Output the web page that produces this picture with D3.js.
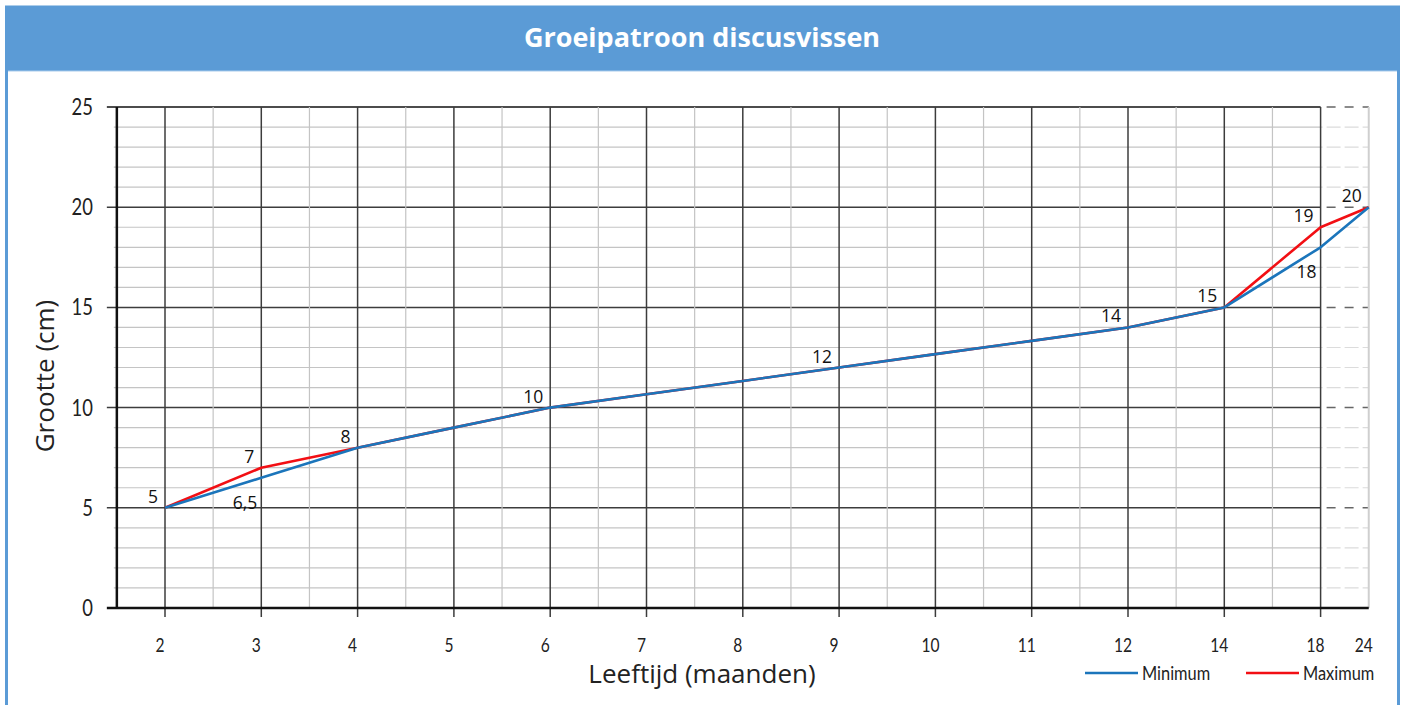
<!DOCTYPE html>
<html>
<head>
<meta charset="utf-8">
<script src="https://cdn.jsdelivr.net/npm/d3@7"></script>
<style>
  body { margin: 0; background: #fff; }
  svg text { fill: #222; }
  .cond { font-family: Lato, "Open Sans", sans-serif; }
  .human { font-family: "Open Sans", Lato, sans-serif; }
</style>
</head>
<body>
<svg id="chart" width="1403" height="705"></svg>
<script>
const months = [2, 3, 4, 5, 6, 7, 8, 9, 10, 11, 12, 14, 18, 24];
const minimumValues = [5, 6.5, 8, 9, 10, 10.67, 11.33, 12, 12.67, 13.33, 14, 15, 18, 20];
const maximumValues = [5, 7, 8, 9, 10, 10.67, 11.33, 12, 12.67, 13.33, 14, 15, 19, 20];
const yTicks = [0, 5, 10, 15, 20, 25];
const seriesNames = ["Minimum", "Maximum"];
const pointLabels = [
  { month: 2, value: 5, text: "5", side: "above" },
  { month: 3, value: 7, text: "7", side: "above" },
  { month: 3, value: 6.5, text: "6,5", side: "below" },
  { month: 4, value: 8, text: "8", side: "above" },
  { month: 6, value: 10, text: "10", side: "above" },
  { month: 9, value: 12, text: "12", side: "above" },
  { month: 12, value: 14, text: "14", side: "above" },
  { month: 14, value: 15, text: "15", side: "above" },
  { month: 18, value: 19, text: "19", side: "above" },
  { month: 18, value: 18, text: "18", side: "below" },
  { month: 24, value: 20, text: "20", side: "above" }
];

const colors = { Minimum: "#1b75bb", Maximum: "#f20f14" };
const headerBlue = "#5b9bd6";

const svg = d3.select("#chart");

// frame + header
svg.append("rect").attr("x", 6.5).attr("y", 7).attr("width", 1392).attr("height", 720)
  .attr("fill", "#fff").attr("stroke", headerBlue).attr("stroke-width", 3);
svg.append("rect").attr("x", 5).attr("y", 7).attr("width", 1395).attr("height", 64)
  .attr("fill", headerBlue);
svg.append("line").attr("x1", 8).attr("x2", 1397).attr("y1", 71).attr("y2", 71)
  .attr("stroke", "#a9cbec").attr("stroke-width", 1);
svg.append("text").attr("class", "human")
  .attr("x", 702).attr("y", 47).attr("text-anchor", "middle")
  .attr("font-size", 27).attr("font-weight", 700).style("fill", "#fff")
  .text("Groeipatroon discusvissen");

// scales: equal columns per month, last column (18 -> 24) half width
const step = 96.3;
const x0 = 165;
const slots = months.map((m, i) => (i === months.length - 1 ? i - 0.5 : i));
const x = d3.scaleLinear().domain(months).range(slots.map((s) => x0 + s * step));
const y = d3.scaleLinear().domain([0, 25]).range([608, 107]);

const left = x(months[0]) - step / 2;
const right = x(months[months.length - 1]);
const solidEnd = x(18);

const grid = svg.append("g");

// horizontal grid (1 cm), dashed in the last column
d3.range(1, 26).forEach((v) => {
  const major = v % 5 === 0;
  const col = v === 25 ? "#111" : major ? "#3c3c3c" : "#c4c4c4";
  grid.append("line")
    .attr("x1", major ? left - 10 : left - 3).attr("x2", solidEnd)
    .attr("y1", y(v)).attr("y2", y(v))
    .attr("stroke", col).attr("stroke-width", major ? 1.5 : 1.2);
  grid.append("line")
    .attr("x1", solidEnd).attr("x2", right)
    .attr("y1", y(v)).attr("y2", y(v))
    .attr("stroke", major ? "#666" : "#dcdcdc").attr("stroke-width", major ? 1.5 : 1.2)
    .attr("stroke-dasharray", major ? "9,9" : "14,4").attr("stroke-dashoffset", -6);
});

// minor vertical lines halfway between months (not in last column)
months.slice(0, -2).forEach((m, i) => {
  const xm = (x(m) + x(months[i + 1])) / 2;
  grid.append("line").attr("x1", xm).attr("x2", xm)
    .attr("y1", y(25)).attr("y2", y(0))
    .attr("stroke", "#c4c4c4").attr("stroke-width", 1.2);
});

// right edge of the half column
grid.append("line").attr("x1", right).attr("x2", right)
  .attr("y1", y(25)).attr("y2", y(0))
  .attr("stroke", "#cfcfcf").attr("stroke-width", 2);

// major vertical lines with tick below the axis
months.slice(0, -1).forEach((m) => {
  grid.append("line").attr("x1", x(m)).attr("x2", x(m))
    .attr("y1", y(25)).attr("y2", y(0) + 9)
    .attr("stroke", "#3c3c3c").attr("stroke-width", 1.5);
});

// axes lines
svg.append("line").attr("x1", left).attr("x2", left).attr("y1", y(25)).attr("y2", y(0) + 1)
  .attr("stroke", "#111").attr("stroke-width", 2.5);
svg.append("line").attr("x1", left - 10).attr("x2", right).attr("y1", y(0)).attr("y2", y(0))
  .attr("stroke", "#111").attr("stroke-width", 2.5);

// tick labels (condensed look)
svg.append("g").selectAll("text").data(yTicks).join("text")
  .attr("class", "cond")
  .attr("transform", (d) => `translate(${left - 24},${y(d) + 8}) scale(0.8,1)`)
  .attr("text-anchor", "end").attr("font-size", 23)
  .text((d) => d);

svg.append("g").selectAll("text").data(months).join("text")
  .attr("class", "cond")
  .attr("transform", (d) => `translate(${x(d) - 5},652) scale(0.82,1)`)
  .attr("text-anchor", "middle").attr("font-size", 19)
  .text((d) => d);

// axis titles
svg.append("text").attr("class", "human")
  .attr("transform", "translate(54,376) rotate(-90)")
  .attr("text-anchor", "middle").attr("font-size", 26)
  .text("Grootte (cm)");
svg.append("text").attr("class", "human")
  .attr("x", 702).attr("y", 683).attr("text-anchor", "middle").attr("font-size", 26)
  .text("Leeftijd (maanden)");

// series
const line = d3.line().x((d) => x(d.month)).y((d) => y(d.value));
const toPoints = (vals) => months.map((m, i) => ({ month: m, value: vals[i] }));

svg.append("path").datum(toPoints(maximumValues))
  .attr("d", line).attr("fill", "none")
  .attr("stroke", colors.Maximum).attr("stroke-width", 2.6).attr("stroke-linejoin", "round");
svg.append("path").datum(toPoints(minimumValues))
  .attr("d", line).attr("fill", "none")
  .attr("stroke", colors.Minimum).attr("stroke-width", 2.6).attr("stroke-linejoin", "round");

// value labels
svg.append("g").selectAll("text").data(pointLabels).join("text")
  .attr("class", "human")
  .attr("x", (d) => x(d.month) - (d.side === "above" ? 7 : 4))
  .attr("y", (d) => y(d.value) + (d.side === "above" ? -5 : 31))
  .attr("text-anchor", "end").attr("font-size", 17.5).style("fill", "#111")
  .text((d) => d.text);

// legend
const legendX = [1085, 1246];
const legend = svg.append("g").selectAll("g").data(seriesNames).join("g")
  .attr("transform", (d, i) => `translate(${legendX[i]},673)`);
legend.append("line").attr("x1", 0).attr("x2", 53).attr("y1", 0).attr("y2", 0)
  .attr("stroke", (d) => colors[d]).attr("stroke-width", 2.4);
legend.append("text").attr("class", "cond")
  .attr("transform", "translate(57,7) scale(0.82,1)").attr("font-size", 20)
  .text((d) => d);
</script>
</body>
</html>
